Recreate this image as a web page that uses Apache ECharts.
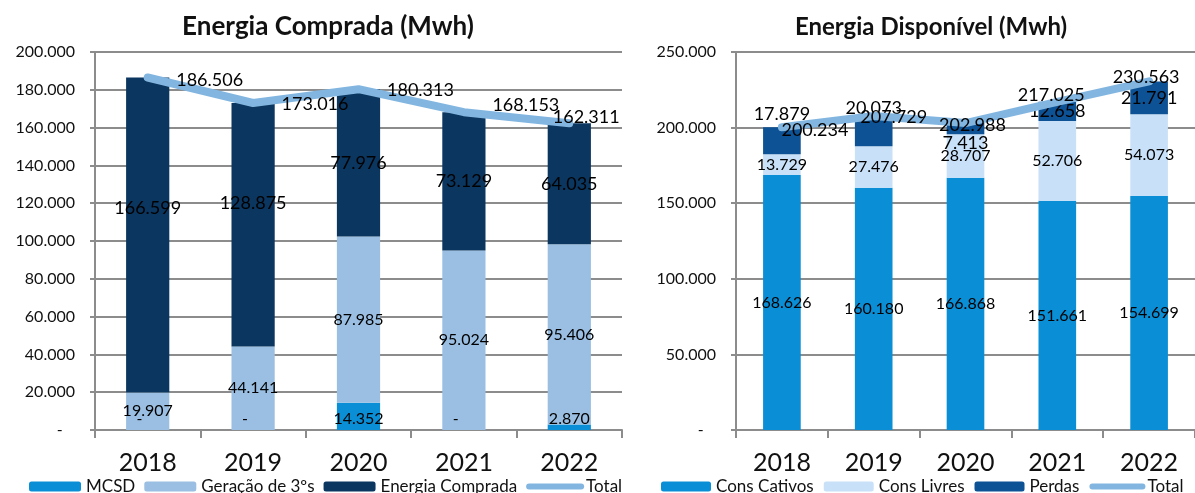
<!DOCTYPE html>
<html>
<head>
<meta charset="utf-8">
<script src="https://cdn.jsdelivr.net/npm/echarts@6/dist/echarts.min.js"></script>
<style>
html,body{margin:0;padding:0;background:#fff;}
#chart{width:1195px;height:493px;}
</style>
</head>
<body>
<div id="chart"></div>
<script>
// ---- data ----
const years = ['2018', '2019', '2020', '2021', '2022'];
// Energia Comprada (Mwh)
const mcsd = [0, 0, 14352, 0, 2870];
const geracao3os = [19907, 44141, 87985, 95024, 95406];
const energiaComprada = [166599, 128875, 77976, 73129, 64035];
const totalComprada = [186506, 173016, 180313, 168153, 162311];
// Energia Disponível (Mwh)
const consCativos = [168626, 160180, 166868, 151661, 154699];
const consLivres = [13729, 27476, 28707, 52706, 54073];
const perdas = [17879, 20073, 7413, 12658, 21791];
const totalDisponivel = [200234, 207729, 202988, 217025, 230563];

// ---- label nudges (layout only) ----
const compradaLabelDy = [-27, -22, 0, 0, 0];
const perdasLabelDy = [-27, -23, 15, 0, 0];
const totalCompradaDx = [0, 0, 0, 0, -45];
const totalCompradaDy = [3, 1, 1, -7, -6];
const totalDispDx = [33, 20, 7, -6, -3];
const totalDispDy = [3, 1, 2, -7, -4];

const FONT = 'Lato, "Open Sans", sans-serif';
function fmt(v) {
  if (v === 0) return '-    ';
  return String(Math.round(v)).replace(/\B(?=(\d{3})+(?!\d))/g, '.');
}
function axisFmt(v) {
  if (v === 0) return '-   ';
  return fmt(v);
}
function nudge(dx, dy) {
  return function (p) {
    const i = p.dataIndex;
    return { x: p.labelRect.x + (dx ? dx[i] : 0), y: p.labelRect.y + (dy ? dy[i] : 0), align: 'left', verticalAlign: 'top' };
  };
}

const gridColor = '#8c8c8c';
const C = {
  mcsd: '#0a8fd6', ger: '#9abfe2', comp: '#0b365f', total: '#82b6e0',
  cat: '#0a8fd6', liv: '#c8e1f8', perd: '#0d5295'
};

function makeX(gridIndex) {
  return {
    type: 'category', gridIndex: gridIndex, data: years,
    axisLine: { lineStyle: { color: gridColor, width: 2 } },
    axisTick: { show: true, length: 8, lineStyle: { color: gridColor, width: 2 } },
    axisLabel: { fontSize: 25, color: '#111', margin: 20, fontFamily: FONT }
  };
}
function makeY(gridIndex, max, interval) {
  return {
    type: 'value', gridIndex: gridIndex, min: 0, max: max, interval: interval,
    axisLine: { show: true, lineStyle: { color: gridColor, width: 2 } },
    axisTick: { show: true, length: 5, lineStyle: { color: gridColor, width: 2 } },
    splitLine: { lineStyle: { color: gridColor, width: 2 } },
    axisLabel: { fontSize: 16, color: '#111', margin: 20, fontFamily: FONT, formatter: axisFmt }
  };
}
function barLabel(size, pos, dist) {
  return { show: true, position: pos || 'inside', distance: dist || 0, color: '#000', fontSize: size, fontFamily: FONT, formatter: p => fmt(p.value) };
}
const totalLegendItem = { name: 'Total', itemStyle: { opacity: 0 }, lineStyle: { color: '#82b6e0', width: 6, cap: 'round' } };

const chart = echarts.init(document.getElementById('chart'), null, { renderer: 'canvas' });
chart.setOption({
  animation: false,
  backgroundColor: '#fff',
  graphic: [
    { type: 'text', x: 328, y: 27, style: { text: 'Energia Comprada (Mwh)', font: 'bold 26px ' + FONT, fill: '#111', textAlign: 'center', textVerticalAlign: 'middle' } },
    { type: 'text', x: 931, y: 27, style: { text: 'Energia Disponível (Mwh)', font: 'bold 24px ' + FONT, fill: '#111', textAlign: 'center', textVerticalAlign: 'middle' } }
  ],
  legend: [
    {
      data: ['MCSD', 'Geração de 3ºs', 'Energia Comprada', totalLegendItem],
      left: 24, top: 473, itemWidth: 52, itemHeight: 10, itemGap: 9,
      textStyle: { fontSize: 17, color: '#111', fontFamily: FONT }, selectedMode: false
    },
    {
      data: ['Cons Cativos', 'Cons Livres', 'Perdas', totalLegendItem],
      left: 656, top: 473, itemWidth: 50, itemHeight: 10, itemGap: 10,
      textStyle: { fontSize: 17, color: '#111', fontFamily: FONT }, selectedMode: false
    }
  ],
  grid: [
    { left: 95, right: 1195 - 622, top: 52, bottom: 63 },
    { left: 736, right: -13, top: 52, bottom: 63 }
  ],
  xAxis: [makeX(0), makeX(1)],
  yAxis: [makeY(0, 200000, 20000), makeY(1, 250000, 50000)],
  series: [
    { name: 'MCSD', type: 'bar', stack: 'a', xAxisIndex: 0, yAxisIndex: 0, barWidth: '41%', data: mcsd,
      itemStyle: { color: C.mcsd }, label: barLabel(16, 'insideBottom', 3) },
    { name: 'Geração de 3ºs', type: 'bar', stack: 'a', xAxisIndex: 0, yAxisIndex: 0, data: geracao3os,
      itemStyle: { color: C.ger }, label: barLabel(16) },
    { name: 'Energia Comprada', type: 'bar', stack: 'a', xAxisIndex: 0, yAxisIndex: 0, data: energiaComprada,
      itemStyle: { color: C.comp }, label: barLabel(18), labelLayout: nudge(null, compradaLabelDy) },
    { name: 'Total', type: 'line', xAxisIndex: 0, yAxisIndex: 0, data: totalComprada,
      symbol: 'circle', symbolSize: 1, showSymbol: true, z: 5,
      lineStyle: { color: C.total, width: 8, cap: 'round', join: 'round' }, itemStyle: { color: C.total },
      label: { show: true, position: 'right', distance: 28, color: '#000', fontSize: 18, fontFamily: FONT, formatter: p => fmt(p.value) },
      labelLayout: nudge(totalCompradaDx, totalCompradaDy) },

    { name: 'Cons Cativos', type: 'bar', stack: 'b', xAxisIndex: 1, yAxisIndex: 1, barWidth: '41%', data: consCativos,
      itemStyle: { color: C.cat }, label: barLabel(16) },
    { name: 'Cons Livres', type: 'bar', stack: 'b', xAxisIndex: 1, yAxisIndex: 1, data: consLivres,
      itemStyle: { color: C.liv }, label: barLabel(16) },
    { name: 'Perdas', type: 'bar', stack: 'b', xAxisIndex: 1, yAxisIndex: 1, data: perdas,
      itemStyle: { color: C.perd }, label: barLabel(18), labelLayout: nudge(null, perdasLabelDy) },
    { name: 'Total', type: 'line', xAxisIndex: 1, yAxisIndex: 1, data: totalDisponivel,
      symbol: 'circle', symbolSize: 1, showSymbol: true, z: 5,
      lineStyle: { color: C.total, width: 8, cap: 'round', join: 'round' }, itemStyle: { color: C.total },
      label: { show: true, position: 'inside', color: '#000', fontSize: 18, fontFamily: FONT, formatter: p => fmt(p.value) },
      labelLayout: nudge(totalDispDx, totalDispDy) }
  ]
});
</script>
</body>
</html>
